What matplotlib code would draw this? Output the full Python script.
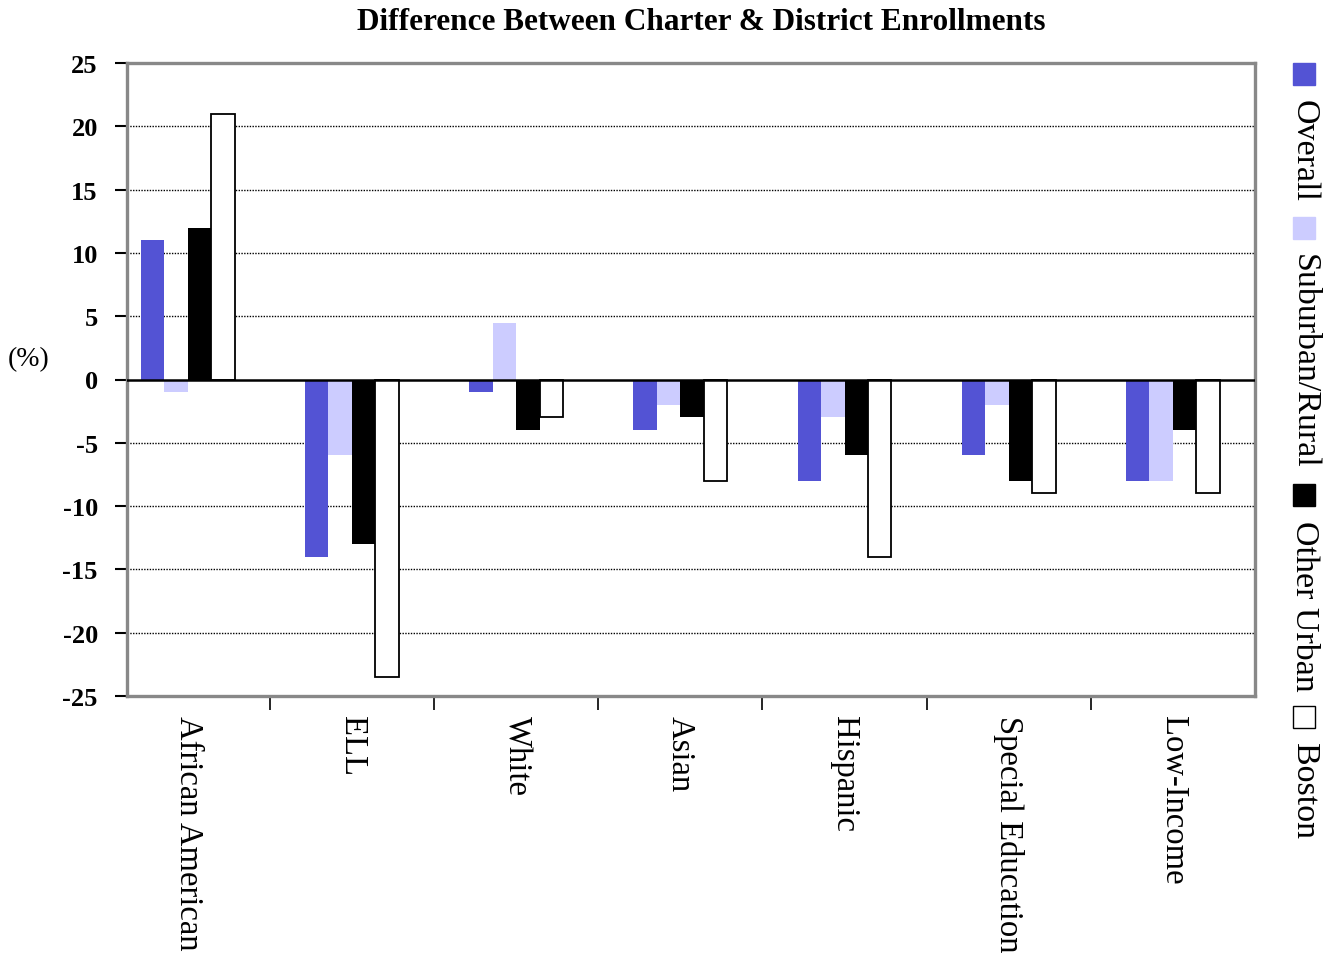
import numpy as np
import matplotlib.pyplot as plt
from matplotlib.patches import Rectangle

plt.rcParams['font.family'] = ['Liberation Serif', 'DejaVu Serif']

# Categories and percentage differences (charter minus district)
categories = ['African American', 'ELL', 'White', 'Asian', 'Hispanic',
              'Special Education', 'Low-Income']
overall = [11, -14, -1, -4, -8, -6, -8]
suburban_rural = [-1, -6, 4.5, -2, -3, -2, -8]
other_urban = [12, -13, -4, -3, -6, -8, -4]
boston = [21, -23.5, -3, -8, -14, -9, -9]

series = ['Overall', 'Suburban/Rural', 'Other Urban', 'Boston']
values = [overall, suburban_rural, other_urban, boston]
faces = ['#5353D4', '#CCCCFF', 'black', 'white']
edges = ['none', 'none', 'none', 'black']

fig = plt.figure(figsize=(13.29, 9.54), dpi=100)
ax = fig.add_axes([127 / 1329, 1 - 697 / 954, 1128 / 1329, 633 / 954])

x = np.arange(len(categories))
w = 0.143
for i, (vals, fc, ec) in enumerate(zip(values, faces, edges)):
    ax.bar(x + (i - 1.5) * w, vals, width=w, color=fc, edgecolor=ec,
           linewidth=1.3 if ec != 'none' else 0, zorder=3)

ax.set_xlim(-0.37, 6.5)
ax.set_ylim(-25, 25)
ax.set_yticks(range(-25, 26, 5))
ax.set_yticklabels([str(v) for v in range(-25, 26, 5)], fontsize=19,
                   fontweight='bold')

for v in range(-20, 25, 5):
    if v != 0:
        ax.axhline(v, color='black', linestyle=(0, (1, 1)), linewidth=1,
                   zorder=1)
ax.axhline(0, color='black', linewidth=1.8, zorder=4)

ax.set_xticks([])
ax.set_xticks(np.arange(0.5, 6.5, 1), minor=True)
ax.tick_params(axis='x', which='minor', length=10, width=1.2, color='black',
               direction='out')
ax.tick_params(axis='y', length=9, width=1.5, color='black', pad=12)

for sp in ax.spines.values():
    sp.set_color('#888888')
    sp.set_linewidth(2.4)

for xi, name in zip(x, categories):
    ax.text(xi, -26.5, name, rotation=-90, ha='center', va='top',
            fontsize=23.5)

fig.text(8 / 1329, 1 - 360 / 954, '(%)', fontsize=20, va='center', ha='left')

fig.text(0.5 * (358 + 1045) / 1329, 1 - 23 / 954,
         'Difference Between Charter & District Enrollments',
         fontsize=22.5, fontweight='bold', ha='center', va='center')

# Vertical legend down the right side
fig.canvas.draw()
renderer = fig.canvas.get_renderer()
xc = 1304
y = 64
sq = 22
for name, fc, ec in zip(series, faces, edges):
    fig.patches.append(Rectangle(((xc - sq / 2) / 1329, 1 - (y + sq) / 954),
                                 sq / 1329, sq / 954, facecolor=fc,
                                 edgecolor='black' if ec != 'none' else fc,
                                 linewidth=1, transform=fig.transFigure))
    y += sq + 14
    t = fig.text(xc / 1329, 1 - y / 954, name, rotation=-90, ha='center',
                 va='top', fontsize=24.5)
    bb = t.get_window_extent(renderer)
    y += bb.height + 16

fig.savefig('out.png', dpi=100)
